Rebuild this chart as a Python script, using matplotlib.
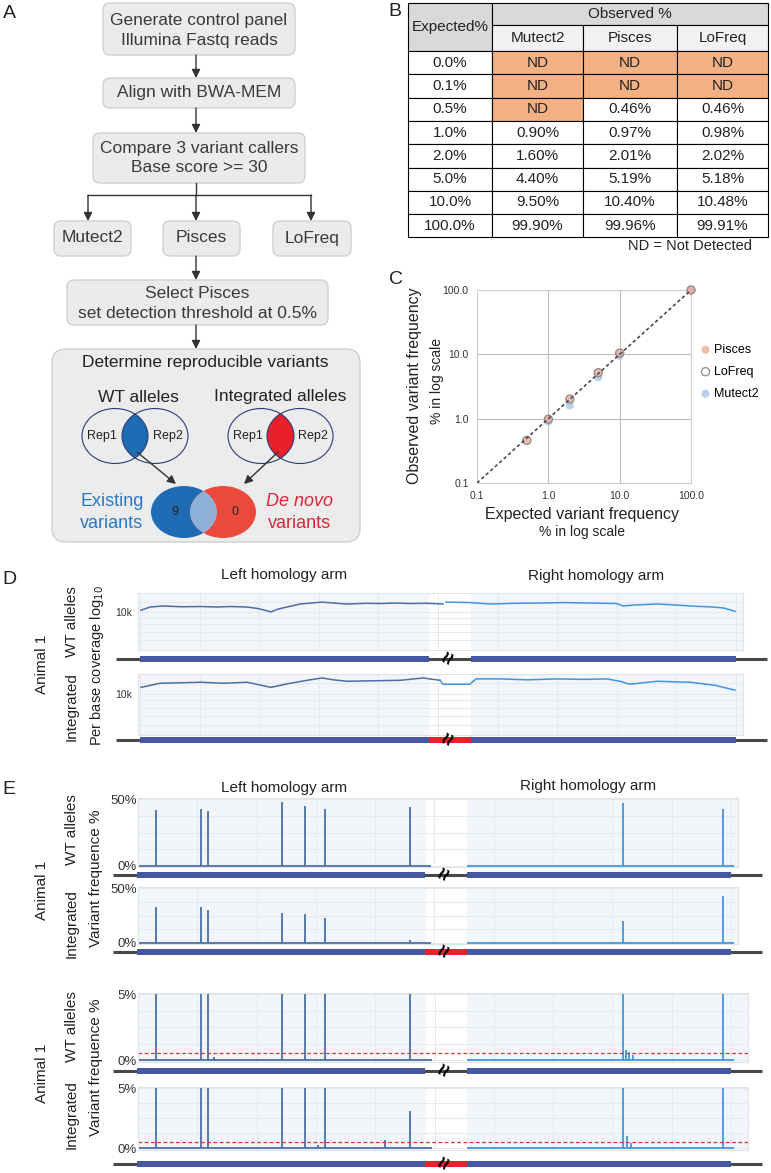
import matplotlib
matplotlib.use('Agg')
import matplotlib.pyplot as plt
from matplotlib.patches import FancyBboxPatch, Ellipse, Rectangle

plt.rcParams['font.family'] = ['Liberation Sans', 'DejaVu Sans']

W, H = 771, 1173

# ---------------- data ----------------
# panel B / C : control panel, expected vs observed %
expected = [0.0, 0.1, 0.5, 1.0, 2.0, 5.0, 10.0, 100.0]
mutect2 = [None, None, None, 0.90, 1.60, 4.40, 9.50, 99.90]
pisces = [None, None, 0.46, 0.97, 2.01, 5.19, 10.40, 99.96]
lofreq = [None, None, 0.46, 0.98, 2.02, 5.18, 10.48, 99.91]
callers = ['Mutect2', 'Pisces', 'LoFreq']

# panel A : reproducible variant counts
n_existing = 9
n_denovo = 0

# homology arms on the amplicon (bp)
left_arm = (0, 970)
right_arm = (1110, 2000)
flank = (-80, 2105)

# panel D : per base coverage
wt_left_pos = [3, 34, 77, 140, 201, 260, 302, 359, 396, 440, 463, 537, 611, 650, 695, 760,
               805, 860, 906, 960, 1017]
wt_left_cov = [10300, 10900, 11100, 10950, 11000, 10900, 11000, 10900, 10600, 10000, 10500,
               11500, 11900, 11700, 11500, 11650, 11600, 11700, 11600, 11650, 11500]
wt_right_pos = [1027, 1107, 1175, 1260, 1342, 1420, 1510, 1600, 1621, 1660, 1735, 1800, 1846,
                1923, 1960, 1997]
wt_right_cov = [11900, 11800, 11500, 11650, 11700, 11800, 11700, 11600, 11100, 11300, 11500,
                11300, 11100, 10900, 10700, 10100]
int_left_pos = [3, 67, 140, 201, 280, 359, 440, 487, 560, 611, 650, 695, 780, 873, 950, 1007]
int_left_cov = [11200, 12000, 12100, 12200, 12000, 12200, 11200, 11800, 12600, 13100, 12700,
                12400, 12500, 12600, 13100, 12600]
int_right_pos = [1007, 1017, 1107, 1128, 1208, 1300, 1400, 1490, 1567, 1611, 1644, 1690,
                 1735, 1846, 1930, 1997]
int_right_cov = [12600, 11800, 11800, 12900, 12900, 12700, 12900, 12800, 12900, 12400, 11800,
                 12100, 12400, 12200, 11600, 10700]

# panel E : variant frequency %
cover_left = (5, 990)
cover_right = (1110, 2010)
spike_pos = [61, 212, 236, 485, 562, 630, 916, 1636, 1973]
wt_vaf = [42, 43, 41, 48, 45, 43, 44, 47, 43]
int_vaf = [33, 33, 30, 27.5, 26, 22.5, 3.1, 20, 43]
wt_minor_pos = [255, 400, 700, 1645, 1655, 1668]
wt_minor_vaf = [0.2, 0.1, 0.1, 0.8, 0.6, 0.35]
int_minor_pos = [606, 832, 1650, 1662]
int_minor_vaf = [0.3, 0.65, 1.0, 0.4]
threshold = 0.5

# ---------------- figure ----------------
fig = plt.figure(figsize=(W / 100, H / 100), dpi=100)
ov = fig.add_axes([0, 0, 1, 1])
ov.set_xlim(0, W)
ov.set_ylim(H, 0)
ov.axis('off')


def rect(x0, y0, x1, y1):
    return [x0 / W, 1 - y1 / H, (x1 - x0) / W, (y1 - y0) / H]


TXT = '#3a3a3a'
for letter, x, y in [('A', 9, 14), ('B', 395, 11), ('C', 396, 280), ('D', 9, 580), ('E', 9, 790)]:
    ov.text(x, y, letter, fontsize=14, ha='center', va='center', color='#222')

# ---------------- A: flowchart ----------------
def box(x0, y0, x1, y1, lines, ys, fs=12.5):
    ov.add_patch(FancyBboxPatch((x0, y0), x1 - x0, y1 - y0,
                                boxstyle='round,pad=0,rounding_size=7',
                                fc='#ebebeb', ec='#d0d0d0', lw=1))
    for t, y in zip(lines, ys):
        ov.text((x0 + x1) / 2, y, t, ha='center', va='center', fontsize=fs, color=TXT)


def arrow(x0, y0, x1, y1):
    ov.annotate('', xy=(x1, y1), xytext=(x0, y0),
                arrowprops=dict(arrowstyle='-|>,head_length=0.5,head_width=0.25',
                                color='#333', lw=1, shrinkA=0, shrinkB=0))


box(103, 3, 295, 55, ['Generate control panel', 'Illumina Fastq reads'], [20, 41])
arrow(196, 55, 196, 78)
box(103, 78, 295, 108, ['Align with BWA-MEM'], [93])
arrow(196, 108, 196, 133)
box(93, 133, 305, 183, ['Compare 3 variant callers', 'Base score >= 30'], [148, 168])
ov.plot([196, 196], [183, 195], color='#333', lw=1)
ov.plot([88, 311], [195, 195], color='#333', lw=1)
for bx, (x0, x1), name in zip([88, 196, 311], [(54, 131), (163, 240), (273, 351)], callers):
    arrow(bx, 195, bx, 221)
    box(x0, 221, x1, 256, [name], [238])
arrow(196, 256, 196, 280)
box(67, 280, 328, 325, ['Select Pisces', 'set detection threshold at 0.5%'], [293, 313])
arrow(196, 325, 196, 349)
ov.add_patch(FancyBboxPatch((52, 349), 308, 193, boxstyle='round,pad=0,rounding_size=14',
                            fc='#ececec', ec='#cfcfcf', lw=1))
ov.text(205, 363, 'Determine reproducible variants', ha='center', va='center',
        fontsize=12.5, color='#222')
ov.text(138, 397, 'WT alleles', ha='center', va='center', fontsize=12.5, color='#222')
ov.text(280, 397, 'Integrated alleles', ha='center', va='center', fontsize=12.5, color='#222')


def venn_pair(cx1, cx2, cy, fill):
    e1 = Ellipse((cx1, cy), 66, 55, fc='none', ec='#2b3c7a', lw=0.8, zorder=3)
    e2 = Ellipse((cx2, cy), 66, 55, fc='none', ec='#2b3c7a', lw=0.8, zorder=3)
    ov.add_patch(e1)
    ov.add_patch(e2)
    lens = Ellipse((cx2, cy), 66, 55, fc=fill, ec='none', zorder=2)
    ov.add_patch(lens)
    lens.set_clip_path(e1)
    ov.text(cx1 - 13, cy, 'Rep1', ha='center', va='center', fontsize=9, color='#222')
    ov.text(cx2 + 13, cy, 'Rep2', ha='center', va='center', fontsize=9, color='#222')


venn_pair(115, 155, 436, '#1f6cb5')
venn_pair(261, 300, 436, '#e8202a')
arrow(137, 452, 176, 484)
arrow(278, 452, 244, 484)

eb = Ellipse((184, 512), 66, 52, fc='#1f6cb5', ec='none', zorder=2)
er = Ellipse((223, 512), 66, 52, fc='#ec4a3a', ec='none', zorder=3)
ov.add_patch(eb)
ov.add_patch(er)
ov_lap = Ellipse((223, 512), 66, 52, fc='#8fb1d8', ec='none', zorder=4)
ov.add_patch(ov_lap)
ov_lap.set_clip_path(eb)
ov.text(175, 512, str(n_existing), ha='center', va='center', fontsize=9, color='#222', zorder=5)
ov.text(235, 512, str(n_denovo), ha='center', va='center', fontsize=9, color='#222', zorder=5)
ov.text(112, 502, 'Existing', ha='center', va='center', fontsize=13, color='#2b78c2')
ov.text(112, 523, 'variants', ha='center', va='center', fontsize=13, color='#2b78c2')
ov.text(300, 502, 'De novo', ha='center', va='center', fontsize=13, color='#d8283a',
        style='italic')
ov.text(300, 523, 'variants', ha='center', va='center', fontsize=13, color='#d8283a')

# ---------------- B: table ----------------
cols = [408, 492, 583, 677, 768]
y_top, y_mid, y_hdr = 3, 25, 51
row_h = 23.3
tkw = dict(ha='center', va='center', fontsize=11, color='#222')
ov.add_patch(Rectangle((cols[0], y_top), cols[1] - cols[0], y_hdr - y_top,
                       fc='#d9d9d9', ec='k', lw=0.8))
ov.text((cols[0] + cols[1]) / 2, (y_top + y_hdr) / 2, 'Expected%', **tkw)
ov.add_patch(Rectangle((cols[1], y_top), cols[4] - cols[1], y_mid - y_top,
                       fc='#d9d9d9', ec='k', lw=0.8))
ov.text((cols[1] + cols[4]) / 2, (y_top + y_mid) / 2, 'Observed %', **tkw)
for j, name in enumerate(callers):
    ov.add_patch(Rectangle((cols[j + 1], y_mid), cols[j + 2] - cols[j + 1], y_hdr - y_mid,
                           fc='#f2f2f2', ec='k', lw=0.8))
    ov.text((cols[j + 1] + cols[j + 2]) / 2, (y_mid + y_hdr) / 2, name, **tkw)
for i, e in enumerate(expected):
    y0 = y_hdr + i * row_h
    ov.add_patch(Rectangle((cols[0], y0), cols[1] - cols[0], row_h, fc='white', ec='k', lw=0.8))
    ov.text((cols[0] + cols[1]) / 2, y0 + row_h / 2, '{:.1f}%'.format(e), **tkw)
    for j, vals in enumerate([mutect2, pisces, lofreq]):
        v = vals[i]
        ov.add_patch(Rectangle((cols[j + 1], y0), cols[j + 2] - cols[j + 1], row_h,
                               fc='#f4b183' if v is None else 'white', ec='k', lw=0.8))
        ov.text((cols[j + 1] + cols[j + 2]) / 2, y0 + row_h / 2,
                'ND' if v is None else '{:.2f}%'.format(v), **tkw)
ov.text(752, 246, 'ND = Not Detected', ha='right', va='center', fontsize=10.5, color='#222')

# ---------------- C: scatter ----------------
axc = fig.add_axes(rect(477, 290, 691, 483))
axc.set_xscale('log')
axc.set_yscale('log')
axc.set_xlim(0.1, 100)
axc.set_ylim(0.1, 100)
axc.plot([0.1, 100], [0.1, 100], color='#4a4a4a', lw=1.2, dashes=(2, 1.6), zorder=5)


def pts(vals):
    return [e for e, v in zip(expected, vals) if v is not None], [v for v in vals if v is not None]


hm = axc.scatter(*pts(mutect2), s=34, c='#aac6e6', alpha=0.8, edgecolors='none',
                 label='Mutect2', zorder=2, clip_on=False)
hp = axc.scatter(*pts(pisces), s=34, c='#f0a595', alpha=0.75, edgecolors='none',
                 label='Pisces', zorder=3, clip_on=False)
hl = axc.scatter(*pts(lofreq), s=34, facecolors='none', edgecolors='#8a8a8a', linewidths=0.9,
                 label='LoFreq', zorder=4, clip_on=False)
ticks = [0.1, 1, 10, 100]
labs = ['0.1', '1.0', '10.0', '100.0']
axc.set_xticks(ticks, labs)
axc.set_yticks(ticks, labs)
axc.minorticks_off()
axc.tick_params(length=0, labelsize=7.5, colors='#333', pad=6)
axc.grid(True, color='#bdbdbd', lw=0.8)
for s in axc.spines.values():
    s.set_color('#d0d0d0')
axc.legend(handles=[hp, hl, hm], loc='center left', bbox_to_anchor=(698 / W, 1 - 372 / H),
           bbox_transform=fig.transFigure, frameon=False, fontsize=9, handletextpad=0.1,
           labelspacing=0.8, borderpad=0, borderaxespad=0, handlelength=1.2)
ov.text(655, 302, 'R² = 1', ha='center', va='center', fontsize=7, color='#222')
ov.text(582, 515, 'Expected variant frequency', ha='center', va='center', fontsize=11.5, color='#222')
ov.text(582, 532, '% in log scale', ha='center', va='center', fontsize=10, color='#222')
ov.text(415, 386, 'Observed variant frequency', ha='center', va='center', fontsize=11.5,
        color='#222', rotation=90)
ov.text(437, 381, '% in log scale', ha='center', va='center', fontsize=10, color='#222',
        rotation=90)

# ---------------- D / E: tracks ----------------
BG = '#f2f5fa'
C_LEFT = '#4b6fa6'
C_RIGHT = '#4195df'


def track(px_box, xlim):
    ax = fig.add_axes(rect(*px_box))
    ax.set_xlim(xlim)
    ax.axvspan(xlim[0], left_arm[1], color=BG, zorder=0, lw=0)
    ax.axvspan(right_arm[0], xlim[1], color=BG, zorder=0, lw=0)
    for s in ax.spines.values():
        s.set_color('#e3e3e3')
        s.set_linewidth(0.8)
    ax.set_xticks(range(0, 2100, 200))
    ax.grid(True, which='both', color='#e3e8ef', lw=0.6)
    ax.tick_params(which='both', length=0, labelbottom=False, colors='#333')
    return ax


def gene_track(yc, xlim, integrated):
    ax = fig.add_axes(rect(100, yc - 8, 771, yc + 8))
    ax.set_xlim(xlim)
    ax.set_ylim(-8, 8)
    ax.axis('off')
    ax.plot(flank, [0, 0], color='#484848', lw=2.2, solid_capstyle='butt', zorder=1)
    ax.broken_barh([(left_arm[0], left_arm[1] - left_arm[0]),
                    (right_arm[0], right_arm[1] - right_arm[0])], (-3.2, 6.4),
                   fc='#4658a0', zorder=2)
    if integrated:
        ax.broken_barh([(left_arm[1], right_arm[0] - left_arm[1])], (-3.2, 6.4),
                       fc='#e8212b', zorder=2)
    ax.text((left_arm[1] + right_arm[0]) / 2, 0.3, '≈', rotation=65, ha='center', va='center',
            fontsize=16, fontweight='bold', color='k', zorder=3)


d_xlim = (-7, 2024)
g_xlim_d = (-134, 2118)
for px_box, yc, lp, lc, rp, rc, integ in [
        ((138, 593, 743, 650), 659, wt_left_pos, wt_left_cov, wt_right_pos, wt_right_cov, False),
        ((138, 674, 743, 735), 740, int_left_pos, int_left_cov, int_right_pos, int_right_cov, True)]:
    ax = track(px_box, d_xlim)
    ax.set_yscale('log')
    ax.set_ylim(5060, 14000)
    ax.plot(lp, lc, color=C_LEFT, lw=1.1)
    ax.plot(rp, rc, color=C_RIGHT, lw=1.1)
    ax.set_yticks([10000], ['10k'])
    ax.set_yticks([6000, 7000, 8000, 9000, 12000], minor=True)
    ax.yaxis.set_minor_formatter(plt.NullFormatter())
    ax.tick_params(labelsize=7.5, pad=4)
    gene_track(yc, g_xlim_d, integ)

ov.text(284, 575, 'Left homology arm', ha='center', va='center', fontsize=11, color='#222')
ov.text(596, 576, 'Right homology arm', ha='center', va='center', fontsize=11, color='#222')
ov.text(284, 788, 'Left homology arm', ha='center', va='center', fontsize=11, color='#222')
ov.text(588, 786, 'Right homology arm', ha='center', va='center', fontsize=11, color='#222')

narrow = ['Liberation Sans Narrow', 'Liberation Sans', 'DejaVu Sans']
g_xlim_e = (-125, 2135)
rows = [
    ((138, 798, 738, 867), 875, (-1, 51), 50, wt_vaf, [], [], False, False),
    ((138, 887, 738, 944), 952, (-1, 51), 50, int_vaf, int_minor_pos, int_minor_vaf, True, False),
    ((138, 993, 748, 1062), 1071, (-0.15, 5.1), 5, wt_vaf, wt_minor_pos, wt_minor_vaf, False, True),
    ((138, 1087, 748, 1150), 1164, (-0.15, 5.1), 5, int_vaf, int_minor_pos, int_minor_vaf, True, True),
]
for px_box, yc, ylim, top, vaf, mpos, mvaf, integ, thr in rows:
    xlim = (3, 2024 if px_box[2] == 738 else 2057)
    ax = track(px_box, xlim)
    ax.set_ylim(ylim)
    ax.hlines(0, *cover_left, color=C_LEFT, lw=1.3)
    ax.hlines(0, *cover_right, color=C_RIGHT, lw=1.3)
    for p, v in list(zip(spike_pos, vaf)) + list(zip(mpos, mvaf)):
        ax.vlines(p, 0, v, color=C_LEFT if p < left_arm[1] else C_RIGHT, lw=1.3)
    if thr:
        ax.axhline(threshold, color='#e03535', lw=0.9, ls=(0, (3, 2)))
    ax.set_yticks([0, top], ['0%', '{}%'.format(top)])
    ax.set_yticks([top / 4, top / 2, 3 * top / 4], minor=True)
    ax.yaxis.set_minor_formatter(plt.NullFormatter())
    ax.tick_params(labelsize=9.5, pad=1)
    for t in ax.get_yticklabels():
        t.set_family(narrow)
    gene_track(yc, g_xlim_e, integ)

# side labels
side = [
    ('Animal 1', 42, 664, 11), ('WT alleles', 72, 622, 11), ('Integrated', 72, 707, 11),
    ('Per base coverage log$_{10}$', 97, 666, 10.5),
    ('Animal 1', 42, 890, 11), ('WT alleles', 72, 830, 11), ('Integrated', 72, 924, 11),
    ('Variant frequence %', 96, 878, 11),
    ('Animal 1', 42, 1073, 11), ('WT alleles', 72, 1027, 11), ('Integrated', 72, 1115, 11),
    ('Variant frequence %', 96, 1067, 11),
]
for t, x, y, fs in side:
    ov.text(x, y, t, rotation=90, ha='center', va='center', fontsize=fs, color='#222')

fig.savefig('out.png', dpi=100)
